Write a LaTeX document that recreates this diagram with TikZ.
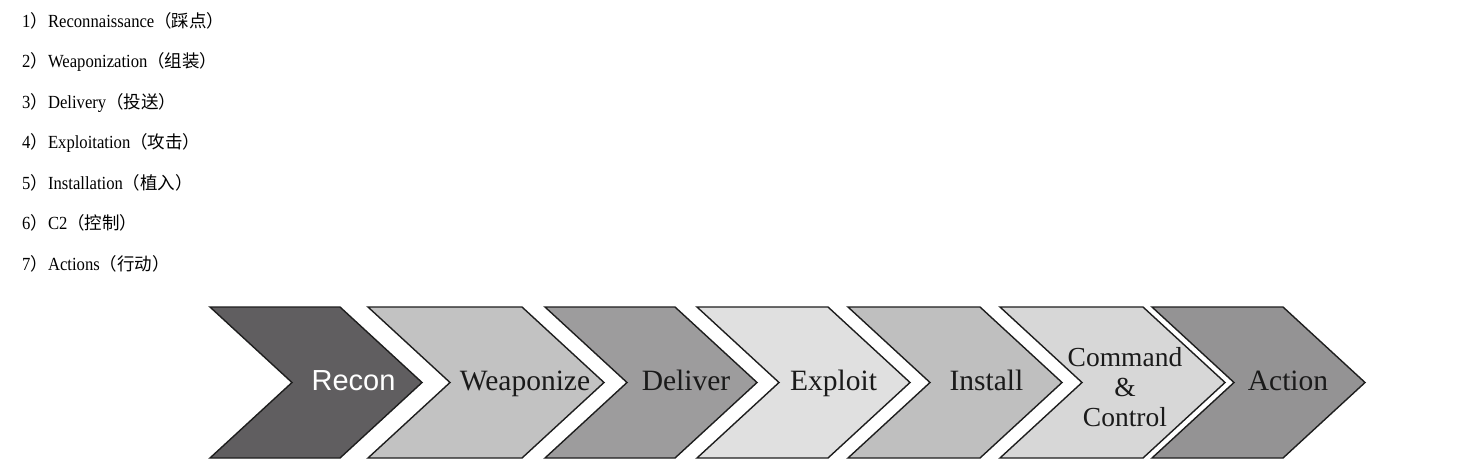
\documentclass[tikz,border=0pt]{standalone}
\usepackage{fontspec}
\setmainfont{Liberation Serif}
\newfontfamily\listfont[FakeStretch=0.9]{Liberation Serif}
\newfontfamily\cjk{Noto Sans CJK SC}
\newfontfamily\sansfont{Liberation Sans}
\definecolor{cRecon}{HTML}{605E60}
\definecolor{cWeap}{HTML}{C2C2C2}
\definecolor{cDeliv}{HTML}{9D9C9D}
\definecolor{cExpl}{HTML}{E0E0E0}
\definecolor{cInst}{HTML}{BFBFBF}
\definecolor{cCC}{HTML}{D7D7D7}
\definecolor{cAct}{HTML}{949394}
\definecolor{edge}{HTML}{1E1E1E}
\definecolor{txt}{HTML}{1A1A1A}
\tikzset{
  chev/.style={draw=edge, line width=1.4pt, line join=miter},
  listitem/.style={anchor=base west, inner sep=0pt, text=black,
    font=\fontsize{18.5}{20}\listfont},
  lab/.style={anchor=base, inner sep=0pt, text=txt,
    font=\fontsize{29.5}{31}\selectfont},
}
\newcommand{\cz}[1]{{\fontsize{17.5}{20}\cjk #1}}
\newcommand{\chevron}[3]{%
  \fill[#3] (#1,307) -- (#2,307) -- ({#2+82},382.5) -- (#2,458) -- (#1,458) -- ({#1+82},382.5) -- cycle;
  \draw[chev] (#1,307) -- (#2,307) -- ({#2+82},382.5) -- (#2,458) -- (#1,458) -- ({#1+82},382.5) -- cycle;
}
\begin{document}
\begin{tikzpicture}[x=1pt,y=-1pt]
\useasboundingbox (0,0) rectangle (1478,472);
\fill[white] (0,0) rectangle (1478,472);

% list
\node[listitem] (l1) at (22,27.3) {1\cz{）}Reconnaissance\cz{（踩点）}};
\node[listitem] (l2) at (22,67.8) {2\cz{）}Weaponization\cz{（组装）}};
\node[listitem] (l3) at (22,108.3) {3\cz{）}Delivery\cz{（投送）}};
\node[listitem] (l4) at (22,148.8) {4\cz{）}Exploitation\cz{（攻击）}};
\node[listitem] (l5) at (22,189.3) {5\cz{）}Installation\cz{（植入）}};
\node[listitem] (l6) at (22,229.8) {6\cz{）}C2\cz{（控制）}};
\node[listitem] (l7) at (22,270.3) {7\cz{）}Actions\cz{（行动）}};

% chevrons
\chevron{210}{340}{cRecon}
\chevron{368}{522}{cWeap}
\chevron{545}{675}{cDeliv}
\chevron{697}{828}{cExpl}
\chevron{848}{980}{cInst}
\chevron{1000}{1143}{cCC}
\chevron{1152}{1283}{cAct}

% labels
\node[lab, text=white, font=\fontsize{29}{31}\sansfont] (recon) at (353.5,390) {Recon};
\node[lab] (weap) at (525,390) {Weaponize};
\node[lab] (deliv) at (686,390) {Deliver};
\node[lab] (expl) at (833.5,390) {Exploit};
\node[lab] (inst) at (986.5,390) {Install};
\node[anchor=center, inner sep=0pt, text=txt, align=center,
  font=\fontsize{27.5}{30}\selectfont] (cc) at (1125,387.5) {Command\\\&\\Control};
\node[lab] (act) at (1288,390) {Action};
\end{tikzpicture}
\end{document}
